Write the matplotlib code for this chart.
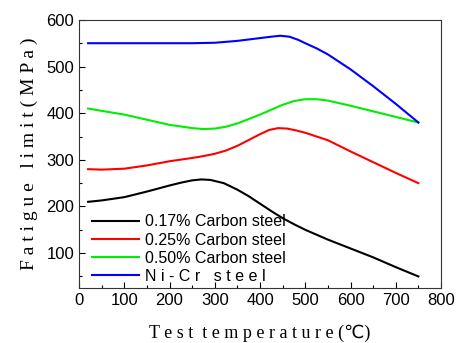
import matplotlib.pyplot as plt
from matplotlib.ticker import MultipleLocator

# values
temp_c017 = [20, 50, 100, 150, 200, 225, 250, 270, 290, 320, 350, 375, 400, 425, 450, 475, 500, 550, 600, 650, 700, 750]
c017 = [210, 213, 220, 232, 245, 251, 256, 258, 257, 250, 236, 222, 206, 190, 175, 162, 150, 129, 110, 91, 70, 50]

temp_c025 = [20, 50, 100, 150, 200, 250, 275, 300, 325, 350, 400, 420, 440, 460, 480, 500, 550, 600, 650, 700, 750]
c025 = [280, 279, 281, 288, 297, 304, 308, 313, 320, 330, 355, 364, 368, 367, 363, 358, 342, 318, 295, 272, 250]

temp_c050 = [20, 50, 100, 150, 200, 250, 275, 300, 325, 350, 400, 450, 475, 500, 525, 550, 600, 650, 700, 750]
c050 = [410, 405, 397, 386, 375, 368, 366, 367, 371, 378, 397, 418, 426, 430, 430, 427, 416, 404, 392, 380]

temp_nicr = [20, 100, 200, 250, 300, 350, 400, 425, 445, 465, 485, 500, 525, 550, 600, 650, 700, 750]
nicr = [550, 550, 550, 550, 551, 555, 561, 564, 566, 564, 557, 550, 539, 526, 494, 458, 420, 380]

labels = ["0.17% Carbon steel", "0.25% Carbon steel", "0.50% Carbon steel", "N i - C r   s t e e l"]

plt.rcParams['font.family'] = ['Liberation Sans', 'DejaVu Sans']

fig = plt.figure(figsize=(4.57, 3.43), dpi=100)
ax = fig.add_axes([0.173, 0.160, 0.792, 0.782])

ax.plot(temp_c017, c017, color="black", lw=1.5, label=labels[0])
ax.plot(temp_c025, c025, color="red", lw=1.5, label=labels[1])
ax.plot(temp_c050, c050, color="#00ee00", lw=1.5, label=labels[2])
ax.plot(temp_nicr, nicr, color="blue", lw=1.5, label=labels[3])

ax.set_xlim(0, 800)
ax.set_ylim(25, 600)
ax.xaxis.set_major_locator(MultipleLocator(100))
ax.xaxis.set_minor_locator(MultipleLocator(50))
ax.yaxis.set_minor_locator(MultipleLocator(50))
ax.set_yticks([100, 200, 300, 400, 500, 600])
ax.tick_params(which="both", direction="in", labelsize=12, width=0.8)
ax.tick_params(which="major", length=4)
ax.tick_params(which="minor", length=2)
for s in ax.spines.values():
    s.set_linewidth(0.8)
    s.set_color("#333333")

ax.set_ylabel("F a t i g u e   l i m i t ( M P a )", family=["Liberation Serif"], fontsize=14, labelpad=6)
ax.set_xlabel("T e s t  t e m p e r a t u r e (℃)", family=["Liberation Serif", "DejaVu Sans"], fontsize=13, labelpad=12)

ax.legend(loc="lower left", frameon=False, fontsize=11.5, handlelength=2.9,
          borderaxespad=0.2, labelspacing=0.2, handletextpad=0.4,
          bbox_to_anchor=(0.01, -0.02))

fig.savefig("out.png", dpi=100)
